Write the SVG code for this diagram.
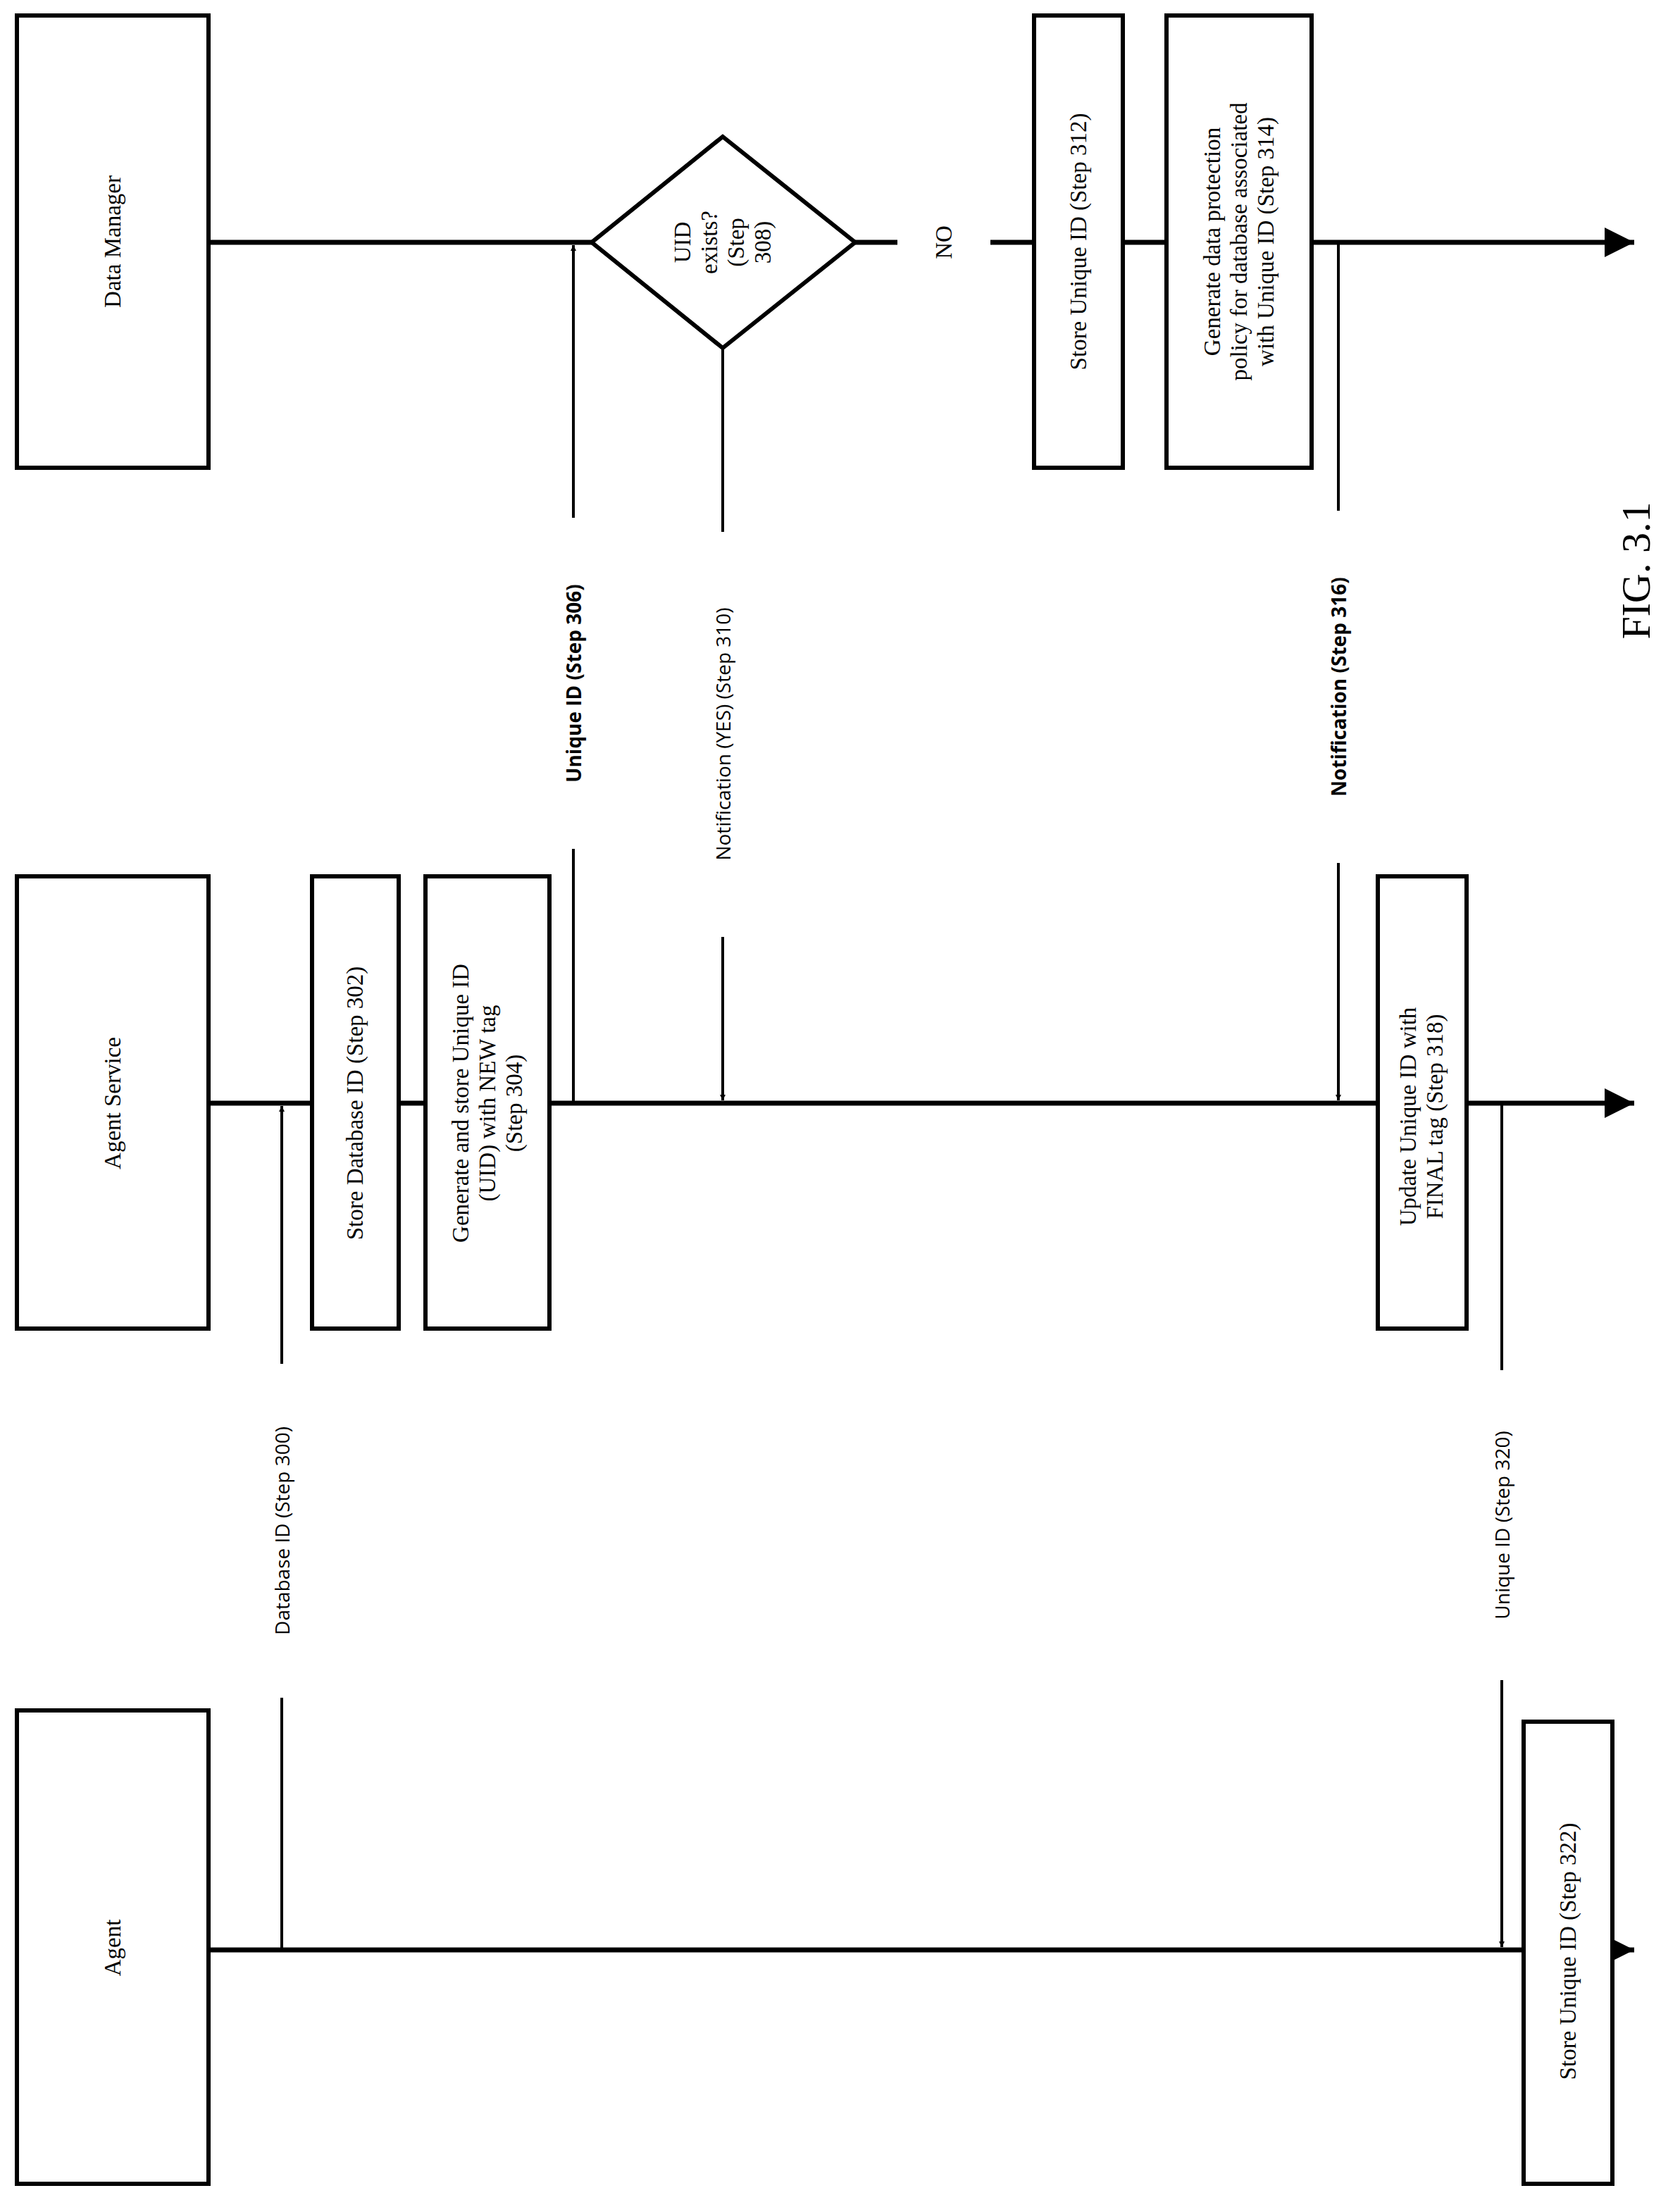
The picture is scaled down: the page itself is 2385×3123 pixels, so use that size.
<svg xmlns="http://www.w3.org/2000/svg" width="2385" height="3123" viewBox="0 0 2385 3123">
<style>
.box{fill:#fff;stroke:#000;stroke-width:6}
.life{stroke:#000;stroke-width:7;fill:none}
.con{stroke:#000;stroke-width:4;fill:none}
.bt{font-family:"Liberation Serif",serif;font-size:33px;text-anchor:middle;dominant-baseline:central}
.lt{font-family:"Open Sans",sans-serif;font-size:28px;text-anchor:middle;dominant-baseline:central}
.b{font-weight:bold}
</style>
<defs>
<marker id="ah" viewBox="0 0 10 10" refX="10" refY="5" markerWidth="8" markerHeight="8" markerUnits="userSpaceOnUse" orient="auto"><path d="M0,0L10,5L0,10z"/></marker>
<marker id="ab" viewBox="0 0 10 10" refX="10" refY="5" markerWidth="6" markerHeight="6" orient="auto"><path d="M0,0L10,5L0,10z"/></marker>
</defs>
<g id="connectors">
<path class="life" d="M296,344H840M1214,344H1274M1406,344H2320" marker-end="url(#ab)"/>
<path class="life" d="M296,1566H2320" marker-end="url(#ab)"/>
<path class="life" d="M296,2768H2320" marker-end="url(#ab)"/>
<path class="con" d="M400,2768V2410M400,1936V1570" marker-end="url(#ah)"/>
<path class="con" d="M814,1566V1205M814,735V348" marker-end="url(#ah)"/>
<path class="con" d="M1026,494V755M1026,1330V1562" marker-end="url(#ah)"/>
<path class="con" d="M1900,344V725M1900,1225V1562" marker-end="url(#ah)"/>
<path class="con" d="M2132,1566V1945M2132,2385V2764" marker-end="url(#ah)"/>
</g>
<g id="lbl300"><text class="lt" transform="translate(400,2173) rotate(-90)">Database ID (Step 300)</text></g>
<g id="lbl306"><text class="lt b" transform="translate(814,970) rotate(-90)">Unique ID (Step 306)</text></g>
<g id="lbl310"><text class="lt" transform="translate(1026,1042) rotate(-90)">Notification (YES) (Step 310)</text></g>
<g id="lbl316"><text class="lt b" transform="translate(1900,975) rotate(-90)">Notification (Step 316)</text></g>
<g id="lbl320"><text class="lt" transform="translate(2132,2165) rotate(-90)">Unique ID (Step 320)</text></g>
<g id="dm"><rect class="box" x="24" y="22" width="272" height="642"/><text class="bt" transform="translate(160,343) rotate(-90)">Data Manager</text></g>
<g id="as"><rect class="box" x="24" y="1244" width="272" height="642"/><text class="bt" transform="translate(160,1566) rotate(-90)">Agent Service</text></g>
<g id="ag"><rect class="box" x="24" y="2428" width="272" height="672"/><text class="bt" transform="translate(160,2765) rotate(-90)">Agent</text></g>
<g id="s308"><path class="box" d="M1026,194L1214,344L1026,494L840,344z"/><text class="bt" transform="translate(1026,344) rotate(-90)"><tspan x="0" dy="-57">UID</tspan><tspan x="0" dy="38">exists?</tspan><tspan x="0" dy="38">(Step</tspan><tspan x="0" dy="38">308)</tspan></text></g>
<g id="no"><text class="bt" transform="translate(1340,344) rotate(-90)">NO</text></g>
<g id="s312"><rect class="box" x="1468" y="22" width="126" height="642"/><text class="bt" transform="translate(1531,343) rotate(-90)">Store Unique ID (Step 312)</text></g>
<g id="s314"><rect class="box" x="1656" y="22" width="206" height="642"/><text class="bt" transform="translate(1759,343) rotate(-90)"><tspan x="0" dy="-38">Generate data protection</tspan><tspan x="0" dy="38">policy for database associated</tspan><tspan x="0" dy="38">with Unique ID (Step 314)</tspan></text></g>
<g id="s302"><rect class="box" x="443" y="1244" width="123" height="642"/><text class="bt" transform="translate(504,1566) rotate(-90)">Store Database ID (Step 302)</text></g>
<g id="s304"><rect class="box" x="604" y="1244" width="176" height="642"/><text class="bt" transform="translate(692,1566) rotate(-90)"><tspan x="0" dy="-38">Generate and store Unique ID</tspan><tspan x="0" dy="38">(UID) with NEW tag</tspan><tspan x="0" dy="38">(Step 304)</tspan></text></g>
<g id="s318"><rect class="box" x="1956" y="1244" width="126" height="642"/><text class="bt" transform="translate(2018,1585) rotate(-90)"><tspan x="0" dy="-19">Update Unique ID with</tspan><tspan x="0" dy="38">FINAL tag (Step 318)</tspan></text></g>
<g id="s322"><rect class="box" x="2163" y="2444" width="126" height="656"/><text class="bt" transform="translate(2226,2770) rotate(-90)">Store Unique ID (Step 322)</text></g>
<text class="bt" style="font-size:58px" transform="translate(2322,810) rotate(-90)">FIG. 3.1</text>
</svg>
